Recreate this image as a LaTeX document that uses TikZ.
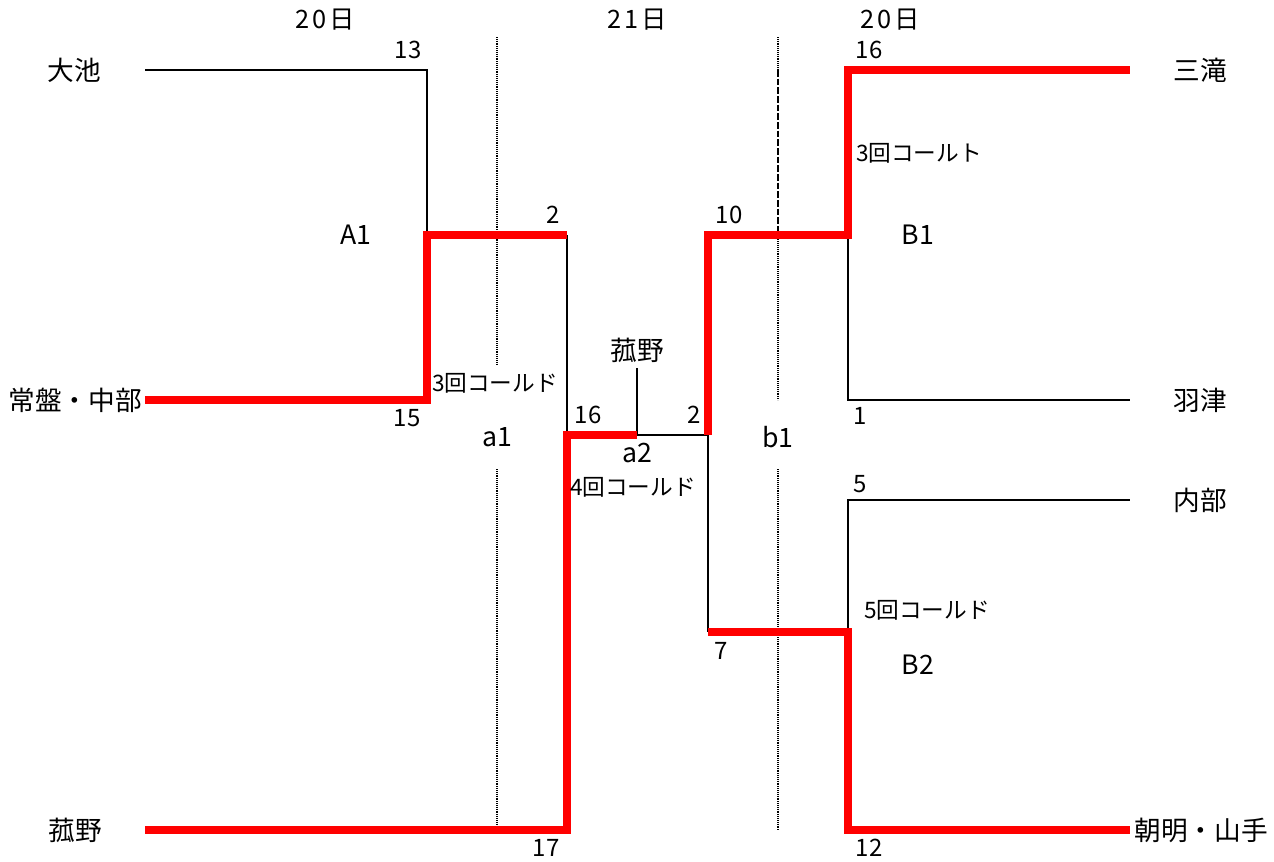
\documentclass[tikz,border=0pt]{standalone}
\usepackage{fontspec}
\setmainfont{Noto Sans CJK JP}
\begin{document}
\begin{tikzpicture}[x=0.75pt,y=-0.75pt,
  win/.style={draw=red, line width=5.5pt, line join=miter},
  lose/.style={draw=black, line width=2.2pt, line join=miter},
  guide/.style={draw=black, line width=1.3pt, dash pattern=on 0.7pt off 0.7pt},
  guidedash/.style={draw=black, line width=2.2pt, dash pattern=on 5pt off 1.5pt},
  team/.style={font=\fontsize{20}{20}\selectfont, inner sep=0pt},
  num/.style={font=\fontsize{18}{18}\selectfont, inner sep=0pt},
  note/.style={font=\fontsize{17}{17}\selectfont, inner sep=0pt},
  day/.style={font=\fontsize{19}{19}\selectfont, inner sep=0pt},
  blk/.style={font=\fontsize{20}{20}\selectfont, inner sep=0pt}
]
\useasboundingbox (0,0) rectangle (1274,861);

% day headers
\node[day] (d1) at (325,20) {2\hspace{2.5pt}0\hspace{2pt}日};
\node[day] (d2) at (637,20) {2\hspace{2.5pt}1\hspace{2pt}日};
\node[day] (d3) at (890,20) {2\hspace{2.5pt}0\hspace{2pt}日};

% teams
\node[team] (oike) at (74,70) {大池};
\node[team] (tokiwa) at (75,400) {常盤・中部};
\node[team] (komoL) at (75,830) {菰野};
\node[team] (mitaki) at (1200,70) {三滝};
\node[team] (hazu) at (1200,400) {羽津};
\node[team] (utsube) at (1200,500) {内部};
\node[team] (asake) at (1201,830) {朝明・山手};
\node[team] (komoC) at (637,350) {菰野};

% junction points
\coordinate (oikeE) at (145,70);
\coordinate (tokiwaE) at (145,400);
\coordinate (komoE) at (145,830);
\coordinate (mitakiW) at (1130,70);
\coordinate (hazuW) at (1130,400);
\coordinate (utsubeW) at (1130,500);
\coordinate (asakeW) at (1130,830);
\coordinate (A1t) at (427,70);
\coordinate (A1b) at (427,400);
\coordinate (A1) at (427,235);
\coordinate (a1t) at (567,235);
\coordinate (a1b) at (567,830);
\coordinate (a1) at (567,435);
\coordinate (komoCs) at (637,368);
\coordinate (a2) at (637,435);
\coordinate (fin) at (708,435);
\coordinate (b1t) at (708,235);
\coordinate (b1b) at (708,632);
\coordinate (B1) at (848,235);
\coordinate (B1t) at (848,70);
\coordinate (B1b) at (848,400);
\coordinate (B2) at (848,632);
\coordinate (B2t) at (848,500);
\coordinate (B2b) at (848,830);

% guide lines
\draw[guide] (497,37) coordinate (g1a) -- (497,365) coordinate (g1b);
\draw[guide] (497,469) coordinate (g1c) -- (497,830) coordinate (g1d);
\draw[guide] (778,37) coordinate (g2a) -- (778,70) coordinate (g2b);
\draw[guidedash] (g2b) -- (778,232) coordinate (g2c);
\draw[guide] (g2c) -- (778,400) coordinate (g2d);
\draw[guide] (778,469) coordinate (g2e) -- (778,830) coordinate (g2f);

% losing paths
\draw[lose] (oikeE) -- (A1t) -- (A1);
\draw[lose] (a1t) -- (a1);
\draw[lose] (komoCs) -- (a2) -- (fin) -- (b1b);
\draw[lose] (B1) -- (B1b) -- (hazuW);
\draw[lose] (B2) -- (B2t) -- (utsubeW);

% winning paths
\draw[win] (tokiwaE) -- (A1b) -- (A1) -- (a1t);
\draw[win] (komoE) -- (a1b) -- (a1) -- (a2);
\draw[win] (fin) -- (b1t) -- (B1) -- (B1t) -- (mitakiW);
\draw[win] (b1b) -- (B2) -- (B2b) -- (asakeW);

% scores and labels
\node[num] (s13) at (408,50) {13};
\node[blk] (lA1) at (356,235) {A1};
\node[num] (s2a) at (553,215) {2};
\node[num] (s15) at (407,418) {15};
\node[note] (c3a) at (495,383) {3回コールド};
\node[blk] (la1) at (497,437) {a1};
\node[num] (s16a) at (588,415) {16};
\node[num] (s2b) at (694,415) {2};
\node[blk] (la2) at (637,453) {a2};
\node[note] (c4) at (633,487) {4回コールド};
\node[num] (s10) at (729,215) {10};
\node[blk] (lb1) at (778,437) {b1};
\node[num] (s16b) at (869,50) {16};
\node[note] (c3b) at (919,153) {3回コールト};
\node[blk] (lB1) at (918,235) {B1};
\node[num] (s1) at (860,416) {1};
\node[num] (s5) at (860,484) {5};
\node[note] (c5) at (927,610) {5回コールド};
\node[blk] (lB2) at (918,665) {B2};
\node[num] (s7) at (721,651) {7};
\node[num] (s17) at (546,848) {17};
\node[num] (s12) at (869,848) {12};
\end{tikzpicture}
\end{document}
